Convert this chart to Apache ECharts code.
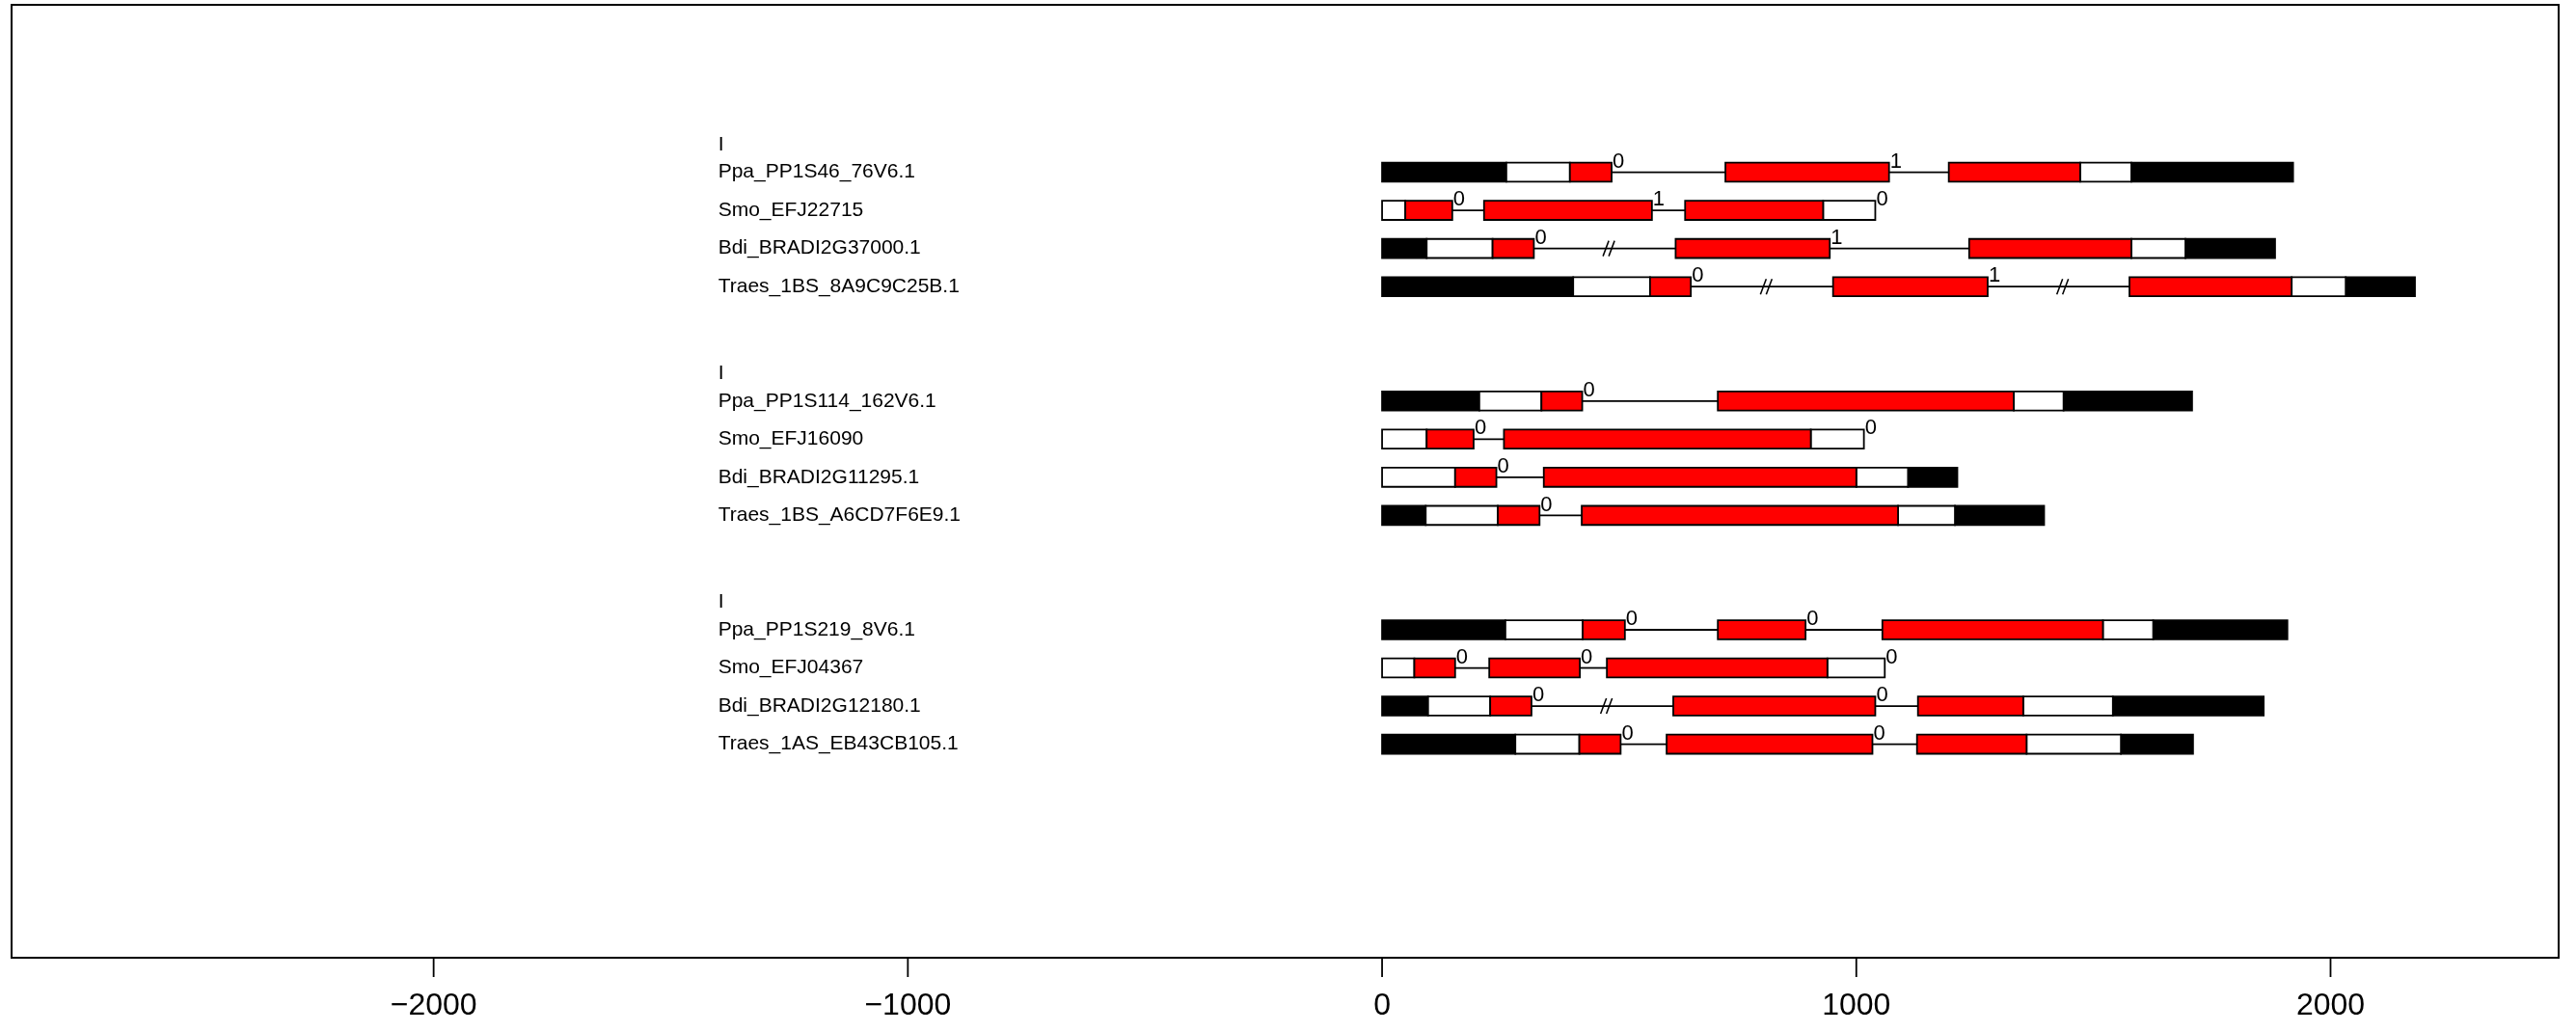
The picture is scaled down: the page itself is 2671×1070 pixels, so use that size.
<!DOCTYPE html>
<html>
<head>
<meta charset="utf-8">
<script src="https://cdn.jsdelivr.net/npm/echarts@6/dist/echarts.min.js"></script>
<style>
html,body{margin:0;padding:0;background:#fff;}
#chart{width:2671px;height:1070px;}
</style>
</head>
<body>
<div id="chart"></div>
<script>
// ---------------- DATA ----------------
const geneNames = [
  'Ppa_PP1S46_76V6.1', 'Smo_EFJ22715', 'Bdi_BRADI2G37000.1', 'Traes_1BS_8A9C9C25B.1',
  'Ppa_PP1S114_162V6.1', 'Smo_EFJ16090', 'Bdi_BRADI2G11295.1', 'Traes_1BS_A6CD7F6E9.1',
  'Ppa_PP1S219_8V6.1', 'Smo_EFJ04367', 'Bdi_BRADI2G12180.1', 'Traes_1AS_EB43CB105.1'
];
const geneRows = [0, 1, 2, 3, 6, 7, 8, 9, 12, 13, 14, 15];
const groupTitles = ['I', 'I', 'I'];
const groupRows = [0, 6, 12];

// [gene index, start, end]
const blackSegs = [
  [0, 0, 262], [0, 1580, 1921],
  [2, 0, 94], [2, 1694, 1883],
  [3, 0, 403], [3, 2032, 2178],
  [4, 0, 205], [4, 1437, 1708],
  [6, 1109, 1213],
  [7, 0, 92], [7, 1208, 1396],
  [8, 0, 260], [8, 1626, 1909],
  [10, 0, 97], [10, 1541, 1859],
  [11, 0, 281], [11, 1558, 1710]
];
const whiteSegs = [
  [0, 262, 396], [0, 1472, 1580],
  [1, 0, 49], [1, 930, 1040],
  [2, 94, 233], [2, 1580, 1694],
  [3, 403, 565], [3, 1918, 2032],
  [4, 205, 336], [4, 1332, 1437],
  [5, 0, 94], [5, 904, 1016],
  [6, 0, 154], [6, 1000, 1109],
  [7, 92, 244], [7, 1088, 1208],
  [8, 260, 423], [8, 1520, 1626],
  [9, 0, 68], [9, 939, 1060],
  [10, 97, 228], [10, 1352, 1541],
  [11, 281, 416], [11, 1359, 1558]
];
const redSegs = [
  [0, 396, 484], [0, 724, 1069], [0, 1195, 1472],
  [1, 49, 148], [1, 215, 569], [1, 639, 930],
  [2, 233, 320], [2, 619, 944], [2, 1238, 1580],
  [3, 565, 651], [3, 951, 1277], [3, 1576, 1918],
  [4, 336, 422], [4, 708, 1332],
  [5, 94, 193], [5, 257, 904],
  [6, 154, 241], [6, 341, 1000],
  [7, 244, 332], [7, 421, 1088],
  [8, 423, 512], [8, 708, 893], [8, 1055, 1520],
  [9, 68, 154], [9, 226, 417], [9, 474, 939],
  [10, 228, 315], [10, 614, 1040], [10, 1130, 1352],
  [11, 416, 503], [11, 600, 1034], [11, 1128, 1359]
];
const introns = [
  [0, 484, 724], [0, 1069, 1195],
  [1, 148, 215], [1, 569, 639],
  [2, 320, 619], [2, 944, 1238],
  [3, 651, 951], [3, 1277, 1576],
  [4, 422, 708],
  [5, 193, 257],
  [6, 241, 341],
  [7, 332, 421],
  [8, 512, 708], [8, 893, 1055],
  [9, 154, 226], [9, 417, 474],
  [10, 315, 614], [10, 1040, 1130],
  [11, 503, 600], [11, 1034, 1128]
];
// [gene index, position]
const breakMarks = [[2, 478], [3, 810], [3, 1435], [10, 473]];
// [gene index, position, phase]
const phaseLabels = [
  [0, 484, '0'], [0, 1069, '1'],
  [1, 148, '0'], [1, 569, '1'], [1, 1040, '0'],
  [2, 320, '0'], [2, 944, '1'],
  [3, 651, '0'], [3, 1277, '1'],
  [4, 422, '0'],
  [5, 193, '0'], [5, 1016, '0'],
  [6, 241, '0'],
  [7, 332, '0'],
  [8, 512, '0'], [8, 893, '0'],
  [9, 154, '0'], [9, 417, '0'], [9, 1060, '0'],
  [10, 315, '0'], [10, 1040, '0'],
  [11, 503, '0'], [11, 1034, '0']
];
const xTicks = [-2000, -1000, 0, 1000, 2000];

// ---------------- LAYOUT ----------------
const FONT = "'Liberation Sans', Arial, Helvetica, sans-serif";
const LABEL_X = -1400;
const BAR_HALF = 0.25;
const TITLE_OFFSET = 0.72;
const X_MIN = -2890, X_MAX = 2481;
const Y_MIN = -4.39, Y_MAX = 20.6;
const TICK_LEN = 20;

const toSeg = arr => arr.map(d => [d[1], d[2], geneRows[d[0]]]);

function rectRenderer(fill) {
  return function (params, api) {
    const s = api.value(0), e = api.value(1), r = api.value(2);
    const p0 = api.coord([s, r - BAR_HALF]);
    const p1 = api.coord([e, r + BAR_HALF]);
    return {
      type: 'rect',
      shape: { x: p0[0], y: Math.min(p0[1], p1[1]), width: p1[0] - p0[0], height: Math.abs(p1[1] - p0[1]) },
      style: { fill: fill, stroke: '#000', lineWidth: 1.8 }
    };
  };
}

const option = {
  animation: false,
  backgroundColor: '#fff',
  grid: [
    { left: 12, right: 18, top: 5, bottom: 77, show: true, borderColor: '#000', borderWidth: 2, backgroundColor: 'transparent', outerBoundsMode: 'none', containLabel: false },
    // thin strip just under the plot box that holds the tick marks
    { left: 12, right: 18, bottom: 77 - TICK_LEN, height: TICK_LEN, show: false, outerBoundsMode: 'none', containLabel: false }
  ],
  xAxis: [
    {
      gridIndex: 0, type: 'value', min: X_MIN, max: X_MAX, position: 'bottom',
      axisLine: { show: false, onZero: false },
      splitLine: { show: false },
      axisTick: { show: false },
      axisLabel: {
        show: true, customValues: xTicks, color: '#000', fontSize: 32, fontFamily: FONT, margin: 34,
        formatter: v => String(v).replace('-', '\u2212')
      }
    },
    {
      gridIndex: 1, type: 'value', min: X_MIN, max: X_MAX, show: false
    }
  ],
  yAxis: [
    { gridIndex: 0, type: 'value', show: false, inverse: true, min: Y_MIN, max: Y_MAX },
    { gridIndex: 1, type: 'value', show: false, min: 0, max: 1 }
  ],
  series: [
    {
      // tick marks, placed by the x scale of the tick strip
      type: 'custom', xAxisIndex: 1, yAxisIndex: 1, data: xTicks.map(v => [v]), silent: true,
      renderItem: function (params, api) {
        const top = api.coord([api.value(0), 1]);
        const bot = api.coord([api.value(0), 0]);
        return {
          type: 'rect',
          shape: { x: top[0] - 0.9, y: top[1], width: 1.8, height: bot[1] - top[1] },
          style: { fill: '#000' }
        };
      }
    },
    {
      type: 'custom', data: toSeg(introns), silent: true,
      renderItem: function (params, api) {
        const a = api.coord([api.value(0), api.value(2)]);
        const b = api.coord([api.value(1), api.value(2)]);
        return { type: 'line', shape: { x1: a[0], y1: a[1], x2: b[0], y2: b[1] }, style: { stroke: '#000', lineWidth: 1.8 } };
      }
    },
    {
      type: 'custom', data: breakMarks.map(d => [d[1], geneRows[d[0]]]), silent: true,
      renderItem: function (params, api) {
        const c = api.coord([api.value(0), api.value(1)]);
        const kids = [-3, 3].map(dx => ({
          type: 'line',
          shape: { x1: c[0] + dx - 3, y1: c[1] + 8, x2: c[0] + dx + 3, y2: c[1] - 8 },
          style: { stroke: '#000', lineWidth: 1.5 }
        }));
        return { type: 'group', children: kids };
      }
    },
    { type: 'custom', data: toSeg(blackSegs), renderItem: rectRenderer('#000'), silent: true },
    { type: 'custom', data: toSeg(whiteSegs), renderItem: rectRenderer('#fff'), silent: true },
    { type: 'custom', data: toSeg(redSegs), renderItem: rectRenderer('#ff0000'), silent: true },
    {
      type: 'custom', data: phaseLabels.map(d => [d[1], geneRows[d[0]]]), silent: true,
      renderItem: function (params, api) {
        const c = api.coord([api.value(0), api.value(1) - BAR_HALF]);
        return {
          type: 'text', x: c[0] + 1, y: c[1] - 1,
          style: { text: String(phaseLabels[params.dataIndex][2]), fill: '#000', font: '22px ' + FONT, textAlign: 'left', textVerticalAlign: 'middle' }
        };
      }
    },
    {
      type: 'custom', data: geneNames.map((n, i) => [LABEL_X, geneRows[i]]), silent: true,
      renderItem: function (params, api) {
        const c = api.coord([api.value(0), api.value(1)]);
        return {
          type: 'text', x: c[0], y: c[1],
          style: { text: geneNames[params.dataIndex], fill: '#000', font: '21px ' + FONT, textAlign: 'left', textVerticalAlign: 'middle' }
        };
      }
    },
    {
      type: 'custom', data: groupTitles.map((t, i) => [LABEL_X, groupRows[i] - TITLE_OFFSET]), silent: true,
      renderItem: function (params, api) {
        const c = api.coord([api.value(0), api.value(1)]);
        return {
          type: 'text', x: c[0], y: c[1],
          style: { text: groupTitles[params.dataIndex], fill: '#000', font: '21px ' + FONT, textAlign: 'left', textVerticalAlign: 'middle' }
        };
      }
    }
  ]
};

const chart = echarts.init(document.getElementById('chart'), null, { renderer: 'canvas' });
chart.setOption(option);
</script>
</body>
</html>
